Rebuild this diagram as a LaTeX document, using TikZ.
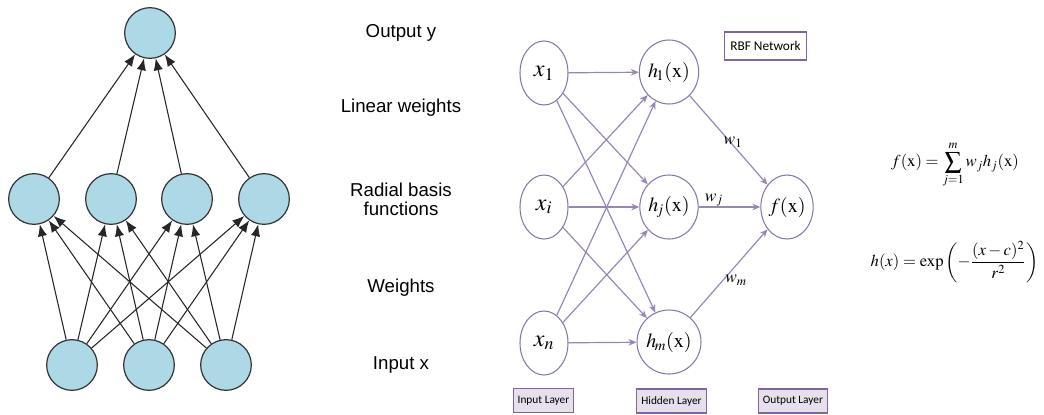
\documentclass[tikz,border=0pt]{standalone}
\usepackage{mathptmx}
\usepackage{fontspec}
\setmainfont{Liberation Serif}
\newfontfamily\arialfont{Liberation Sans}
\newfontfamily\calibrifont{Carlito}
\usetikzlibrary{arrows.meta,shapes.geometric}
\definecolor{nodeblue}{HTML}{ADD8E6}
\definecolor{rbfline}{HTML}{8878A8}
\definecolor{rbfarrow}{HTML}{9787B8}
\definecolor{layerfill}{HTML}{E6E0EC}
\definecolor{layerdraw}{HTML}{8064A2}
\begin{document}
\begin{tikzpicture}[x=0.75pt,y=-0.75pt,
		neuron/.style={circle,draw=black!80,fill=nodeblue,line width=0.9pt,
			minimum size=38pt,inner sep=0pt},
		link/.style={-{Latex[length=9pt,width=7pt]},line width=0.8pt,black!85},
		caption/.style={font=\arialfont\fontsize{14}{16}\selectfont,align=center},
		unit/.style={ellipse,draw=rbfline,line width=0.8pt,minimum width=36pt,
			minimum height=48pt,inner sep=0pt},
		wire/.style={-{Stealth[length=6pt,width=5pt]},line width=0.9pt,rbfarrow},
		layerbox/.style={draw=layerdraw,fill=layerfill,line width=0.8pt,
			font=\calibrifont\fontsize{8.5}{10}\selectfont,minimum height=18pt,inner xsep=3pt}]
	\useasboundingbox (0,0) rectangle (1044,414);
	% left: feed-forward sketch
	\node[neuron] (top) at (150,33) {};
	\foreach \j/\x in {1/34,2/111,3/187,4/264}
		\node[neuron] (m\j) at (\x,199) {};
	\foreach \i/\x in {1/72,2/149,3/226}
		\node[neuron] (b\i) at (\x,365) {};
	\foreach \i in {1,2,3}
		\foreach \j in {1,2,3,4}
			\draw[link] (b\i) -- (m\j);
	\foreach \j in {1,2,3,4}
		\draw[link] (m\j) -- (top);
	% layer captions
	\node[caption] (cout) at (401,33) {Output y};
	\node[caption] (clin) at (401,108) {Linear weights};
	\node[caption] (crad) at (401,199) {Radial basis\\[-2pt]functions};
	\node[caption] (cwts) at (401,288) {Weights};
	\node[caption] (cin) at (401,365) {Input x};
	% right: RBF network
	\node[unit,font=\fontsize{18}{20}\selectfont] (x1) at (544,73) {$x_1$};
	\node[unit,font=\fontsize{18}{20}\selectfont] (xi) at (544,207) {$x_i$};
	\node[unit,font=\fontsize{18}{20}\selectfont] (xn) at (544,343) {$x_n$};
	\node[unit,font=\fontsize{15}{17}\selectfont] (h1) at (669,72) {$h_{\!1}(\mathrm{x})$};
	\node[unit,font=\fontsize{15}{17}\selectfont] (hj) at (669,207) {$h_{\!j}(\mathrm{x})$};
	\node[unit,font=\fontsize{15}{17}\selectfont] (hm) at (669,342) {$h_{\!m}(\mathrm{x})$};
	\node[unit,font=\fontsize{15}{17}\selectfont] (f) at (787,207) {$f(\mathrm{x})$};
	\foreach \i in {1,i,n}
		\foreach \j in {1,j,m}
			\draw[wire] (x\i) -- (h\j);
	\foreach \j in {1,j,m}
		\draw[wire] (h\j) -- (f);
	\node[font=\fontsize{13}{15}\selectfont] (w1) at (733,142) {$w_1$};
	\node[font=\fontsize{13}{15}\selectfont] (wj) at (714,200) {$w_j$};
	\node[font=\fontsize{13}{15}\selectfont] (wm) at (736,280) {$w_m$};
	\node[draw=layerdraw,fill=white,line width=0.8pt,minimum width=62pt,minimum height=21pt,
		font=\calibrifont\fontsize{10}{12}\selectfont] (title) at (765.5,46) {RBF Network};
	\node[layerbox,minimum width=45pt] (lin) at (543.5,400.5) {Input Layer};
	\node[layerbox,minimum width=53pt] (lhid) at (671.5,401) {Hidden Layer};
	\node[layerbox,minimum width=52pt] (lout) at (793,401) {Output Layer};
	% formulas
	\node[font=\fontsize{12.5}{15}\selectfont] (eqf) at (955,165)
		{$\displaystyle f(\mathrm{x})=\sum_{j=1}^{m} w_j h_j(\mathrm{x})$};
	\node[font=\fontsize{12.5}{15}\selectfont,anchor=east] (eqh) at (1043,262)
		{$\displaystyle h(x)=\exp\left(-\frac{(x-c)^2}{r^2}\right)$};
\end{tikzpicture}
\end{document}
